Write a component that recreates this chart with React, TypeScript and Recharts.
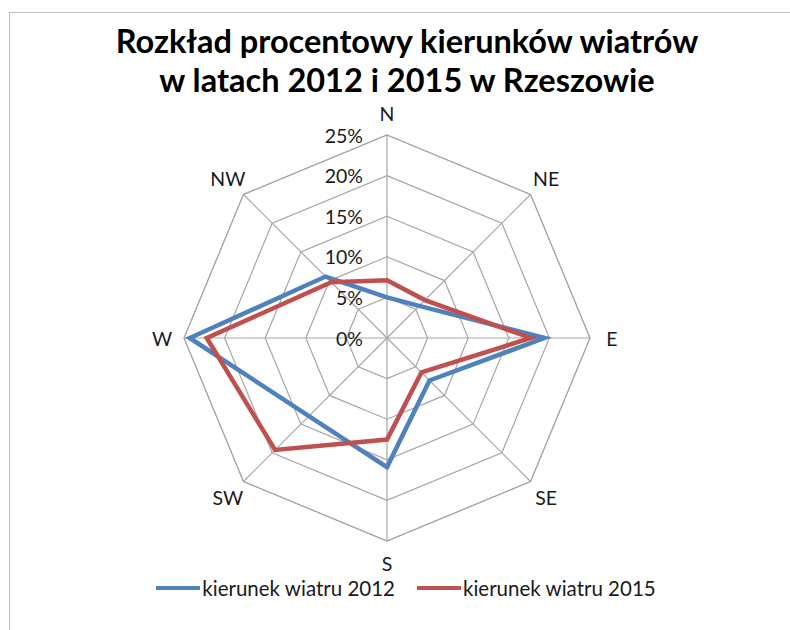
import React from 'react'
import { RadarChart, Radar, PolarGrid, PolarAngleAxis, PolarRadiusAxis, Legend } from 'recharts'

const DIRECTIONS = ['N', 'NE', 'E', 'SE', 'S', 'SW', 'W', 'NW']
const WIND_2012 = [5.0, 5.6, 19.4, 7.4, 15.9, 13.6, 24.3, 10.7]
const WIND_2015 = [7.1, 6.6, 17.7, 6.0, 12.5, 19.5, 22.2, 9.7]
const RADIUS_TICKS = [0, 5, 10, 15, 20, 25]

const SERIES = [
  { key: 'y2012', name: 'kierunek wiatru 2012', color: '#4F81BD' },
  { key: 'y2015', name: 'kierunek wiatru 2015', color: '#C0504D' },
]

const W = 790
const H = 630
const CX = 387
const CY = 338
const R = 203
const FONT = 'Lato, "Open Sans", sans-serif'
const TEXT = '#1a1a1a'

const data = DIRECTIONS.map((dir, i) => ({ dir, y2012: WIND_2012[i], y2015: WIND_2015[i] }))

// angle labels sit a fixed distance outside the outer ring
const AngleTick = (props: any) => {
  const a = (props.payload.coordinate * Math.PI) / 180
  const d = R + 22
  const x = CX + d * Math.cos(a)
  const y = CY - d * Math.sin(a)
  return (
    <text x={x} y={y} textAnchor="middle" dominantBaseline="central" fontSize={19.5} fill={TEXT} fontFamily={FONT}>
      {props.payload.value}
    </text>
  )
}

const RadiusTick = (props: any) => (
  <text x={props.x - 24} y={props.y} textAnchor="end" dominantBaseline="central" fontSize={19.5} fill={TEXT} fontFamily={FONT}>
    {props.payload.value}%
  </text>
)

const LegendContent = () => (
  <div style={{ display: 'flex', justifyContent: 'center', gap: 22, fontFamily: FONT, fontSize: 20.5, color: TEXT }}>
    {SERIES.map(s => (
      <div key={s.key} style={{ display: 'flex', alignItems: 'center' }}>
        <div style={{ width: 44, height: 4, background: s.color, marginRight: 2 }} />
        <span>{s.name}</span>
      </div>
    ))}
  </div>
)

export default function App() {
  return (
    <div style={{ position: 'absolute', left: 0, top: 0, width: W, height: H, background: '#fff', overflow: 'hidden' }}>
      <div style={{
        position: 'absolute', left: 9, top: 12, right: -2, bottom: -2,
        borderTop: '1px solid #BFBFBF', borderLeft: '1px solid #BFBFBF',
      }} />
      <div style={{
        position: 'absolute', left: 0, width: 814, top: 21, textAlign: 'center',
        fontFamily: FONT, fontWeight: 700, fontSize: 32.5, lineHeight: '39px', color: '#000',
      }}>
        Rozkład procentowy kierunków wiatrów<br />w latach 2012 i 2015 w Rzeszowie
      </div>
      <RadarChart width={W} height={H} data={data} cx={CX} cy={CY} outerRadius={R} style={{ position: 'absolute', left: 0, top: 0 }}>
        <PolarGrid stroke="#A6A6A6" strokeWidth={1.2} />
        <PolarAngleAxis dataKey="dir" tick={AngleTick} tickLine={false} axisLine={{ stroke: '#A6A6A6' }} />
        <PolarRadiusAxis angle={90} domain={[0, 25]} ticks={RADIUS_TICKS as any} tickCount={6} axisLine={false} tick={RadiusTick} />
        {SERIES.map(s => (
          <Radar
            key={s.key}
            dataKey={s.key}
            name={s.name}
            stroke={s.color}
            strokeWidth={4.5}
            fill="none"
            fillOpacity={0}
            dot={false}
            isAnimationActive={false}
          />
        ))}
        <Legend content={LegendContent} wrapperStyle={{ position: 'absolute', left: 0, width: 812, top: 576 }} />
      </RadarChart>
    </div>
  )
}
